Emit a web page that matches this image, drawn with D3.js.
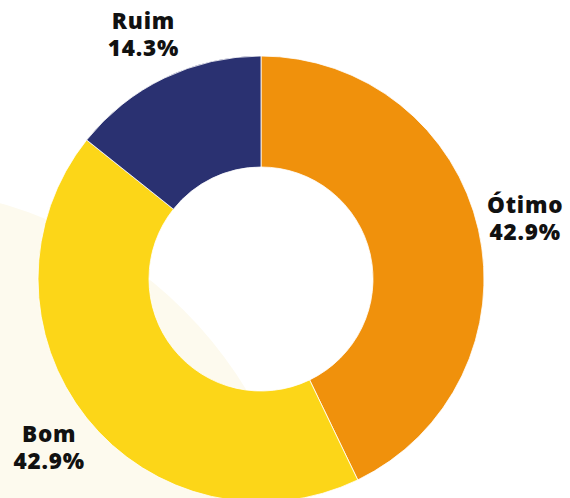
<!DOCTYPE html>
<html>
<head>
<meta charset="utf-8">
<script src="https://cdn.jsdelivr.net/npm/d3@7"></script>
<style>
  html, body { margin: 0; padding: 0; background: #fff; }
  svg { display: block; }
</style>
</head>
<body>
<div id="viz"></div>
<script>
// dados do gráfico
var categorias = ["Ótimo", "Bom", "Ruim"];
var valores = [3, 3, 1];
var percentuais = ["42.9%", "42.9%", "14.3%"];
var cores = ["#F0910C", "#FCD618", "#2A3171"];

var W = 570, H = 498;
var cx = 261, cy = 279;
var rOut = 223, rIn = 112, rLabel = 271;

var svg = d3.select("#viz")
    .append("svg")
    .attr("width", W)
    .attr("height", H);

// círculo creme no fundo
svg.append("circle")
    .attr("cx", -112)
    .attr("cy", 607)
    .attr("r", 419)
    .attr("fill", "#fdfaee");

var pie = d3.pie().sort(null).value(function(d){ return d; });
var arcos = pie(valores);

var arc = d3.arc().innerRadius(rIn).outerRadius(rOut);
var arcLabel = d3.arc().innerRadius(rLabel).outerRadius(rLabel);

var g = svg.append("g")
    .attr("transform", "translate(" + cx + "," + cy + ")");

g.selectAll("path")
    .data(arcos)
    .enter()
    .append("path")
    .attr("d", arc)
    .attr("fill", function(d, i){ return cores[i]; })
    .attr("stroke", "#fff")
    .attr("stroke-width", 0.8);

var labels = g.selectAll("text")
    .data(arcos)
    .enter()
    .append("text")
    .attr("transform", function(d){
        var c = arcLabel.centroid(d);
        return "translate(" + c[0] + "," + c[1] + ")";
    })
    .attr("text-anchor", "middle")
    .attr("font-family", "'Open Sans', sans-serif")
    .attr("font-weight", 800)
    .attr("font-size", 22.5)
    .attr("letter-spacing", 0.8)
    .attr("fill", "#111");

labels.append("tspan")
    .attr("x", 0)
    .attr("y", -5.5)
    .text(function(d, i){ return categorias[i]; });
labels.append("tspan")
    .attr("x", 0)
    .attr("y", 21.5)
    .text(function(d, i){ return percentuais[i]; });
</script>
</body>
</html>
